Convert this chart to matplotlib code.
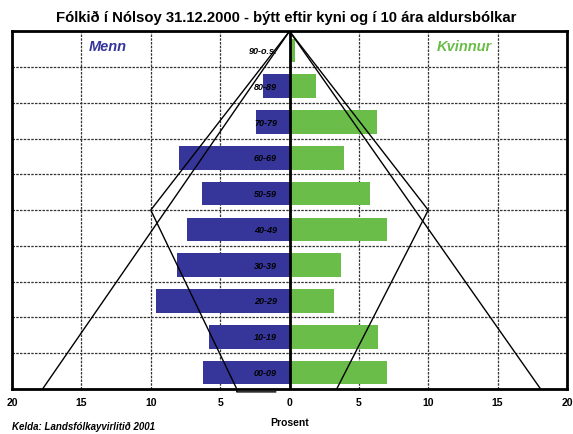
import matplotlib.pyplot as plt
import numpy as np

plt.rcParams['font.family'] = ['Liberation Sans', 'DejaVu Sans']

# age groups, bottom to top
groups = ['00-09', '10-19', '20-29', '30-39', '40-49',
          '50-59', '60-69', '70-79', '80-89', '90-o.s.']
menn = [6.2, 5.8, 9.6, 8.1, 7.4, 6.3, 8.0, 2.4, 1.9, 0.0]
kvinnur = [7.0, 6.4, 3.2, 3.7, 7.0, 5.8, 3.9, 6.3, 1.9, 0.4]

# reference shapes (percent, row position)
tri_x = [-17.8, 0, 18.1]
tri_y = [-0.5, 9.5, -0.5]
inner_x = [-1.0, -3.8, -3.8, -10.0, 0, 10.0, 3.4]
inner_y = [-0.58, -0.58, -0.5, 4.5, 9.5, 4.5, -0.5]

blue = '#36369a'
green = '#6abd48'

fig = plt.figure(figsize=(5.73, 4.35), dpi=100)
ax = fig.add_axes([0.021, 0.1034, 0.9685, 0.8226])

y = np.arange(len(groups))
ax.barh(y - 0.04, [-m for m in menn], height=0.66, color=blue, zorder=3)
ax.barh(y - 0.04, kvinnur, height=0.66, color=green, zorder=3)

ax.plot(tri_x, tri_y, color='black', lw=1.0, zorder=4)
ax.plot(inner_x, inner_y, color='black', lw=1.0, zorder=4, clip_on=False)

ax.axvline(0, color='black', lw=2, zorder=5)

for yi, g in zip(y, groups):
    ax.text(-0.9, yi - 0.04, g, ha='right', va='center', fontsize=6.5,
            fontweight='bold', style='italic', zorder=6)

ax.text(-13.1, 9.1, 'Menn', color=blue, fontsize=10.5, fontweight='bold',
        style='italic', ha='center', va='center')
ax.text(12.6, 9.1, 'Kvinnur', color=green, fontsize=10.5, fontweight='bold',
        style='italic', ha='center', va='center')

ax.set_xlim(-20, 20)
ax.set_ylim(-0.5, 9.5)
ax.set_xticks(np.arange(-20, 21, 5))
ax.set_xticklabels([str(abs(v)) for v in range(-20, 21, 5)],
                   fontsize=7.5, fontweight='bold')
ax.set_yticks(np.arange(-0.5, 10, 1))
ax.set_yticklabels([])
ax.tick_params(length=0, pad=6)
ax.grid(True, color='#333333', ls=(0, (2, 1)), lw=0.9, zorder=1)
for s in ax.spines.values():
    s.set_linewidth(2)

ax.set_xlabel('Prosent', fontsize=7.5, fontweight='bold', labelpad=7)
fig.suptitle('Fólkið í Nólsoy 31.12.2000 - býtt eftir kyni og í 10 ára aldursbólkar',
             fontsize=10.7, fontweight='bold', y=0.975)
fig.text(0.021, 0.012, 'Kelda: Landsfólkayvirlitið 2001', fontsize=7,
         fontweight='bold', style='italic')

fig.savefig('out.png', dpi=100)
